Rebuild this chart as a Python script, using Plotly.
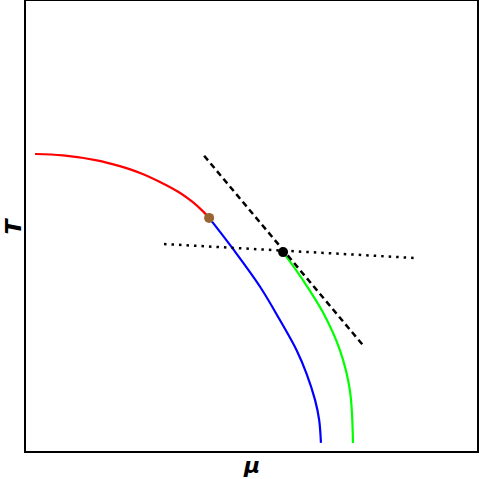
import plotly.graph_objects as go

# curve samples (axis units 0..10)
red_x = [0.20, 0.82, 1.57, 2.08, 2.53, 2.97, 3.41, 3.70, 3.92, 4.06]
red_y = [6.60, 6.57, 6.46, 6.33, 6.18, 5.98, 5.74, 5.53, 5.33, 5.18]

blue_x = [4.06, 4.59, 5.19, 5.63, 6.00, 6.22, 6.41, 6.50, 6.54]
blue_y = [5.18, 4.49, 3.65, 2.91, 2.24, 1.72, 1.13, 0.69, 0.18]

green_x = [5.70, 6.14, 6.59, 6.96, 7.18, 7.25]
green_y = [4.42, 3.80, 3.07, 2.24, 1.36, 0.18]

dash_x = [3.95, 7.49]
dash_y = [6.56, 2.33]

dot_x = [3.06, 8.60]
dot_y = [4.60, 4.29]

pt_brown = (4.06, 5.18)
pt_black = (5.70, 4.42)

fig = go.Figure()

curve = dict(width=2.2, shape="spline", smoothing=1.0)
fig.add_trace(go.Scatter(x=red_x, y=red_y, mode="lines", line=dict(color="red", **curve)))
fig.add_trace(go.Scatter(x=blue_x, y=blue_y, mode="lines", line=dict(color="blue", **curve)))
fig.add_trace(go.Scatter(x=green_x, y=green_y, mode="lines", line=dict(color="#00ff00", **curve)))
fig.add_trace(go.Scatter(x=dash_x, y=dash_y, mode="lines",
                         line=dict(color="black", width=2.5, dash="6px,4px")))
fig.add_trace(go.Scatter(x=dot_x, y=dot_y, mode="lines",
                         line=dict(color="black", width=2.5, dash="2.5px,5px")))
fig.add_trace(go.Scatter(x=[pt_brown[0]], y=[pt_brown[1]], mode="markers",
                         marker=dict(color="#996633", size=10)))
fig.add_trace(go.Scatter(x=[pt_black[0]], y=[pt_black[1]], mode="markers",
                         marker=dict(color="black", size=10)))

axis_style = dict(range=[0, 10], showgrid=False, zeroline=False,
                  showticklabels=False, ticks="", showline=True,
                  linecolor="black", linewidth=2, mirror=True, automargin=False)

fig.update_xaxes(**axis_style)
fig.update_yaxes(**axis_style)

# axis labels as annotations so the margins stay fixed
lbl_font = dict(size=22, color="black", family="DejaVu Sans")
fig.add_annotation(text="<b><i>μ</i></b>", xref="paper", yref="paper",
                   x=0.5, y=0, yanchor="top", yshift=0, showarrow=False, font=lbl_font)
fig.add_annotation(text="<b><i>T</i></b>", xref="paper", yref="paper",
                   x=0, y=0.5, xanchor="right", xshift=1, textangle=-90,
                   showarrow=False, font=lbl_font)

fig.update_layout(
    width=479, height=479,
    margin=dict(l=26, r=2, t=1, b=28),
    plot_bgcolor="white", paper_bgcolor="white",
    showlegend=False,
)

# page body has a default 8px margin; drop it so the figure fills the window
fig.write_html("out.html", config={"displayModeBar": False}, post_script=(
    "document.body.style.margin='0';"
    "document.body.style.overflow='hidden';"
    "Plotly.Plots.resize(document.getElementById('{plot_id}'));"
))
